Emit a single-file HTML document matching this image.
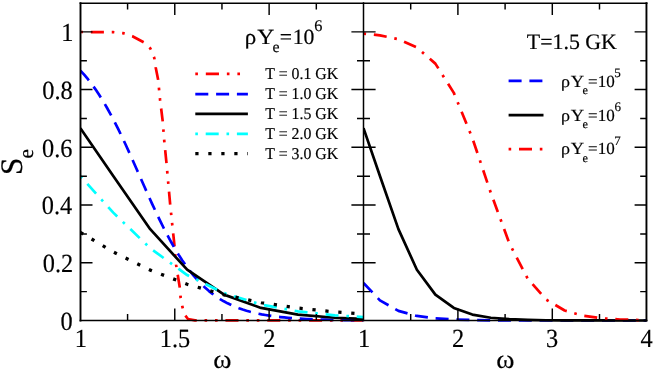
<!DOCTYPE html><html lang="en"><head><title>S_e vs omega</title><meta charset="utf-8"><style>html,body{margin:0;padding:0;background:#fff}svg{display:block}</style></head><body><svg width="654" height="370" viewBox="0 0 654 370">
<rect width="654" height="370" fill="#fff"/>
<defs><clipPath id="cl"><rect x="80.40" y="1.00" width="283.10" height="321.50"/></clipPath><clipPath id="cr"><rect x="363.50" y="1.00" width="283.20" height="321.50"/></clipPath></defs>
<g fill="none" stroke-width="2.70" stroke-linejoin="round">
<g clip-path="url(#cl)">
<path d="M80.40,32.00 L113.00,32.10 L123.40,33.20 L132.40,36.20 L144.00,42.40 L150.40,48.50 L154.30,58.00 L155.70,67.40 L158.10,79.50 L160.00,99.20 L162.70,121.20 L164.30,141.30 L166.50,163.30 L168.20,182.50 L170.20,204.60 L172.20,224.20 L174.20,242.90 L176.10,264.90 L179.70,287.00 L180.50,297.00 L182.40,306.90 L184.80,315.00 L188.00,319.00 L195.00,320.30 L363.50,320.40" stroke="#f00" stroke-dasharray="2.612,7.836,13.060,7.836,2.612,7.836"/>
<path d="M80.40,70.56 L84.17,74.71 L87.95,79.22 L91.72,84.10 L95.50,89.37 L99.27,95.02 L103.05,101.07 L106.82,107.50 L110.60,114.30 L114.37,121.46 L118.15,128.95 L121.92,136.73 L125.70,144.77 L129.47,153.02 L133.25,161.43 L137.02,169.94 L140.79,178.49 L144.57,187.03 L148.34,195.49 L152.12,203.82 L155.89,211.96 L159.67,219.87 L163.44,227.50 L167.22,234.81 L170.99,241.78 L174.77,248.38 L178.54,254.61 L182.32,260.44 L186.09,265.89 L189.87,270.95 L193.64,275.63 L197.41,279.94 L201.19,283.90 L204.96,287.53 L208.74,290.84 L212.51,293.85 L216.29,296.58 L220.06,299.06 L223.84,301.30 L227.61,303.32 L231.39,305.14 L235.16,306.77 L238.94,308.24 L242.71,309.56 L246.49,310.74 L250.26,311.80 L254.03,312.75 L257.81,313.59 L261.58,314.35 L265.36,315.02 L269.13,315.63 L272.91,316.16 L276.68,316.64 L280.46,317.07 L284.23,317.45 L288.01,317.79 L291.78,318.09 L295.56,318.35 L299.33,318.59 L303.11,318.81 L306.88,318.99 L310.65,319.16 L314.43,319.31 L318.20,319.44 L321.98,319.56 L325.75,319.67 L329.53,319.76 L333.30,319.84 L337.08,319.91 L340.85,319.98 L344.63,320.04 L348.40,320.09 L352.18,320.14 L355.95,320.18 L359.73,320.21 L363.50,320.24" stroke="#00f" stroke-dasharray="13.00,7.80"/>
<path d="M80.40,128.16 L113.27,175.94 L150.21,229.17 L187.14,269.71 L224.07,294.62 L261.01,307.95 L297.94,314.57 L334.88,317.74 L363.50,318.88" stroke="#000"/>
<path d="M80.40,176.18 L113.27,212.64 L150.21,248.23 L187.14,275.04 L224.07,293.15 L261.01,304.53 L297.94,311.34 L334.88,315.30 L363.50,317.05" stroke="#0ff" stroke-dasharray="2.60,7.80,13.00,7.80"/>
<path d="M80.40,232.39 L113.27,251.96 L150.21,270.10 L187.14,284.24 L224.07,294.84 L261.01,302.56 L297.94,308.07 L334.88,311.94 L363.50,314.02" stroke="#000" stroke-width="3.3" stroke-dasharray="3.25,9.75"/>
</g><g clip-path="url(#cr)">
<path d="M363.50,283.00 L379.94,300.36 L398.42,310.85 L416.89,315.96 L435.36,318.39 L453.84,319.52 L472.31,320.05 L490.78,320.29 L509.26,320.40 L527.73,320.46 L546.20,320.48 L564.68,320.49 L583.15,320.50 L601.62,320.50 L620.10,320.50 L638.57,320.50 L646.70,320.50" stroke="#00f" stroke-dasharray="13.00,7.80"/>
<path d="M363.50,128.16 L379.94,175.94 L398.42,229.17 L416.89,269.71 L435.36,294.62 L453.84,307.95 L472.31,314.57 L490.78,317.74 L509.26,319.22 L527.73,319.91 L546.20,320.23 L564.68,320.37 L583.15,320.44 L601.62,320.47 L620.10,320.49 L638.57,320.49 L646.70,320.50" stroke="#000"/>
<path d="M363.50,33.61 L379.94,35.33 L398.42,39.26 L416.89,47.44 L435.36,63.63 L453.84,92.87 L472.31,137.93 L490.78,192.75 L509.26,243.12 L527.73,278.77 L546.20,299.62 L564.68,310.48 L583.15,315.79 L601.62,318.31 L620.10,319.48 L638.57,320.03 L646.70,320.14" stroke="#f00" stroke-dasharray="2.60,7.80,13.00,7.80"/>
</g>
<path d="M195.30,73.90 H247.90" stroke="#f00" stroke-dasharray="2.63,7.89,13.15,7.89,2.63,7.89"/>
<path d="M195.30,94.05 H247.90" stroke="#00f" stroke-dasharray="13.00,7.80"/>
<path d="M195.30,113.90 H247.90" stroke="#000"/>
<path d="M195.30,133.90 H247.90" stroke="#0ff" stroke-dasharray="2.60,7.80,13.00,7.80"/>
<path d="M195.30,153.60 H247.90" stroke="#000" stroke-dasharray="3.25,9.75" stroke-width="3.3"/>
<path d="M508.60,80.90 H543.50" stroke="#00f" stroke-dasharray="13.00,7.80"/>
<path d="M508.60,115.20 H543.50" stroke="#000"/>
<path d="M508.60,149.20 H543.50" stroke="#f00" stroke-dasharray="2.60,7.80,13.00,7.80"/>
</g>
<g fill="none" stroke="#000" stroke-linecap="square">
<path d="M80.40,3.20 H646.70 M80.40,320.50 H646.70" stroke-width="1.6"/>
<path d="M80.50,3.20 V320.50 M646.45,3.20 V320.50" stroke-width="1.9"/>
<path d="M363.50,3.00 V320.50" stroke-width="1.5"/>
</g>
<g fill="none" stroke="#000" stroke-width="1.45">
<path d="M80.40,291.64 h6.50 M357.00,291.64 h13.00 M646.70,291.64 h-6.50 M80.40,262.77 h12.10 M351.40,262.77 h24.20 M646.70,262.77 h-12.10 M80.40,233.91 h6.50 M357.00,233.91 h13.00 M646.70,233.91 h-6.50 M80.40,205.05 h12.10 M351.40,205.05 h24.20 M646.70,205.05 h-12.10 M80.40,176.18 h6.50 M357.00,176.18 h13.00 M646.70,176.18 h-6.50 M80.40,147.32 h12.10 M351.40,147.32 h24.20 M646.70,147.32 h-12.10 M80.40,118.45 h6.50 M357.00,118.45 h13.00 M646.70,118.45 h-6.50 M80.40,89.59 h12.10 M351.40,89.59 h24.20 M646.70,89.59 h-12.10 M80.40,60.73 h6.50 M357.00,60.73 h13.00 M646.70,60.73 h-6.50 M80.40,31.86 h12.10 M351.40,31.86 h24.20 M646.70,31.86 h-12.10 M127.58,3.00 v6.50 M127.58,320.50 v-6.50 M174.77,3.00 v12.10 M174.77,320.50 v-12.10 M221.95,3.00 v6.50 M221.95,320.50 v-6.50 M269.13,3.00 v12.10 M269.13,320.50 v-12.10 M316.32,3.00 v6.50 M316.32,320.50 v-6.50 M410.70,3.00 v6.50 M410.70,320.50 v-6.50 M457.90,3.00 v12.10 M457.90,320.50 v-12.10 M505.10,3.00 v6.50 M505.10,320.50 v-6.50 M552.30,3.00 v12.10 M552.30,320.50 v-12.10 M599.50,3.00 v6.50 M599.50,320.50 v-6.50"/>
</g>
<g fill="#000" stroke="#000" stroke-width="0.18" style="font-family:'Liberation Serif',serif;filter:grayscale(1);text-rendering:geometricPrecision">
<text transform="translate(61.28,41.26) scale(0.930,1)" font-size="26.20" text-anchor="start">1</text>
<text transform="translate(42.27,98.99) scale(0.930,1)" font-size="26.20" text-anchor="start">0.8</text>
<text transform="translate(42.03,156.72) scale(0.930,1)" font-size="26.20" text-anchor="start">0.6</text>
<text transform="translate(41.79,214.45) scale(0.930,1)" font-size="26.20" text-anchor="start">0.4</text>
<text transform="translate(42.76,272.17) scale(0.930,1)" font-size="26.20" text-anchor="start">0.2</text>
<text transform="translate(60.55,329.90) scale(0.930,1)" font-size="26.20" text-anchor="start">0</text>
<text transform="translate(74.86,346.60) scale(0.930,1)" font-size="26.20" text-anchor="start">1</text>
<text transform="translate(159.73,346.60) scale(0.930,1)" font-size="26.20" text-anchor="start">1.5</text>
<text transform="translate(263.16,346.60) scale(0.930,1)" font-size="26.20" text-anchor="start">2</text>
<text transform="translate(357.96,346.60) scale(0.930,1)" font-size="26.20" text-anchor="start">1</text>
<text transform="translate(451.93,346.60) scale(0.930,1)" font-size="26.20" text-anchor="start">2</text>
<text transform="translate(546.09,346.60) scale(0.930,1)" font-size="26.20" text-anchor="start">3</text>
<text transform="translate(640.61,346.60) scale(0.930,1)" font-size="26.20" text-anchor="start">4</text>
<text transform="translate(213.35,367.90) scale(1.045,1)" font-size="26.50" text-anchor="start">ω</text>
<text transform="translate(496.30,367.90) scale(1.045,1)" font-size="26.50" text-anchor="start">ω</text>
<text transform="translate(21.5,175.1) rotate(-90)" font-size="31.3">S</text>
<text transform="translate(33.1,158.6) rotate(-90)" font-size="21.2">e</text>
<text transform="translate(265.34,78.60) scale(0.960,1)" font-size="16.50" text-anchor="start">T = 0.1 GK</text>
<text transform="translate(265.34,98.80) scale(0.960,1)" font-size="16.50" text-anchor="start">T = 1.0 GK</text>
<text transform="translate(265.34,118.90) scale(0.960,1)" font-size="16.50" text-anchor="start">T = 1.5 GK</text>
<text transform="translate(265.34,138.90) scale(0.960,1)" font-size="16.50" text-anchor="start">T = 2.0 GK</text>
<text transform="translate(265.34,158.60) scale(0.960,1)" font-size="16.50" text-anchor="start">T = 3.0 GK</text>
<text transform="translate(244.82,43.60) scale(1.060,1)" font-size="21.70" text-anchor="start">ρ</text>
<text transform="translate(257.36,43.60) scale(1.090,1)" font-size="21.70" text-anchor="start">Y</text>
<text transform="translate(272.52,52.20) scale(1.000,1)" font-size="15.90" text-anchor="start">e</text>
<text transform="translate(279.83,43.60) scale(1.000,1)" font-size="21.70" text-anchor="start">=</text>
<text transform="translate(292.66,43.60) scale(1.000,1)" font-size="21.70" text-anchor="start">10</text>
<text transform="translate(314.15,30.90) scale(1.000,1)" font-size="16.30" text-anchor="start">6</text>
<text transform="translate(526.78,48.70) scale(0.990,1)" font-size="22.10" text-anchor="start">T=1.5 GK</text>
<text transform="translate(560.92,86.60) scale(1.060,1)" font-size="17.00" text-anchor="start">ρ</text>
<text transform="translate(570.81,86.60) scale(1.090,1)" font-size="17.00" text-anchor="start">Y</text>
<text transform="translate(582.43,93.90) scale(1.000,1)" font-size="12.30" text-anchor="start">e</text>
<text transform="translate(587.92,86.60) scale(1.000,1)" font-size="17.00" text-anchor="start">=</text>
<text transform="translate(597.64,86.60) scale(1.000,1)" font-size="17.00" text-anchor="start">10</text>
<text transform="translate(614.35,77.10) scale(1.000,1)" font-size="13.00" text-anchor="start">5</text>
<text transform="translate(560.92,120.80) scale(1.060,1)" font-size="17.00" text-anchor="start">ρ</text>
<text transform="translate(570.81,120.80) scale(1.090,1)" font-size="17.00" text-anchor="start">Y</text>
<text transform="translate(582.43,128.10) scale(1.000,1)" font-size="12.30" text-anchor="start">e</text>
<text transform="translate(587.92,120.80) scale(1.000,1)" font-size="17.00" text-anchor="start">=</text>
<text transform="translate(597.64,120.80) scale(1.000,1)" font-size="17.00" text-anchor="start">10</text>
<text transform="translate(614.48,111.30) scale(1.000,1)" font-size="13.00" text-anchor="start">6</text>
<text transform="translate(560.92,154.30) scale(1.060,1)" font-size="17.00" text-anchor="start">ρ</text>
<text transform="translate(570.81,154.30) scale(1.090,1)" font-size="17.00" text-anchor="start">Y</text>
<text transform="translate(582.43,161.60) scale(1.000,1)" font-size="12.30" text-anchor="start">e</text>
<text transform="translate(587.92,154.30) scale(1.000,1)" font-size="17.00" text-anchor="start">=</text>
<text transform="translate(597.64,154.30) scale(1.000,1)" font-size="17.00" text-anchor="start">10</text>
<text transform="translate(614.22,144.80) scale(1.000,1)" font-size="13.00" text-anchor="start">7</text>
</g>
</svg></body></html>
